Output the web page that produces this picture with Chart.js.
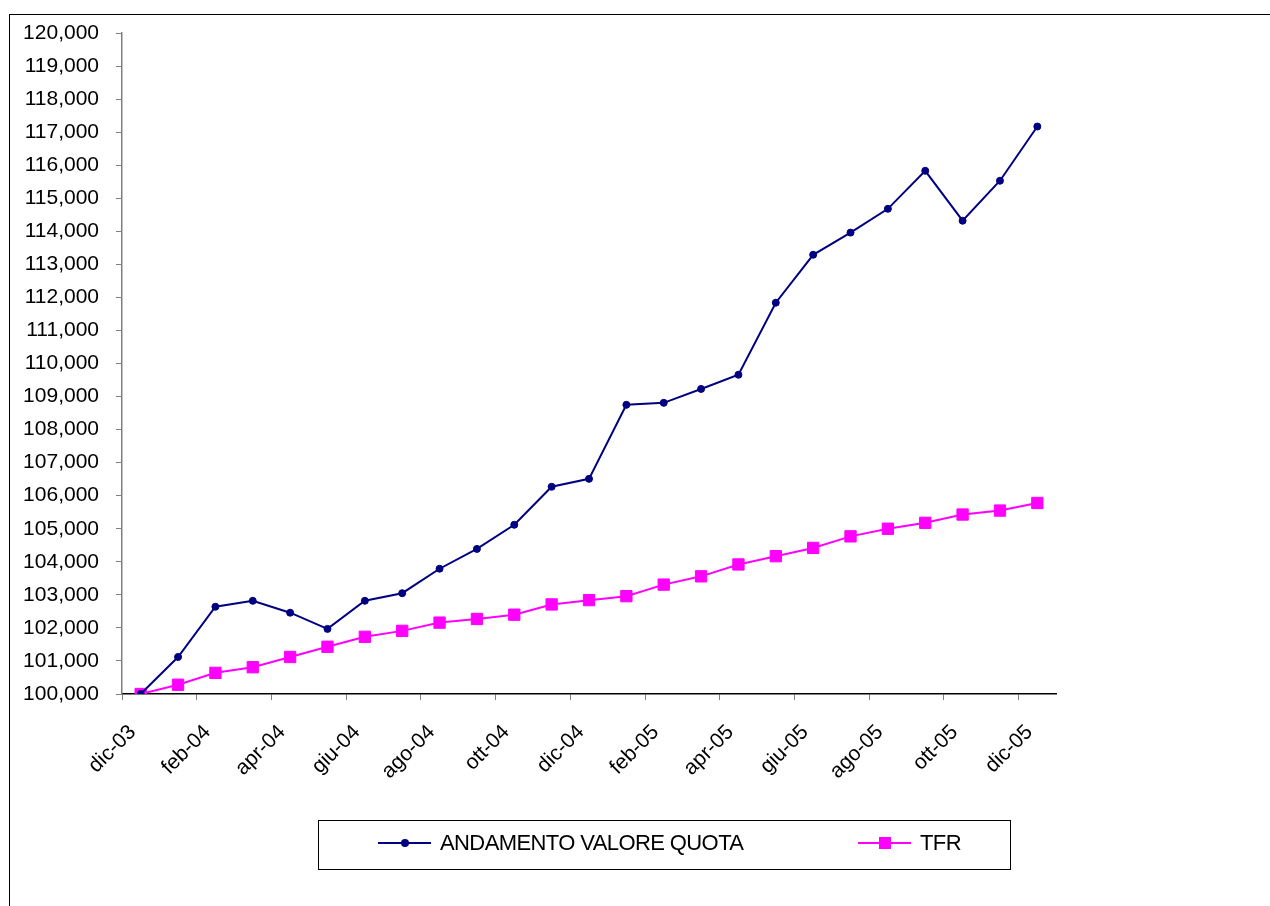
<!DOCTYPE html>
<html lang="it">
<head>
    <meta charset="UTF-8">
    <title>Andamento valore quota</title>
    <script src="https://cdn.jsdelivr.net/npm/chart.js"></script>
    <style>
        body {
            margin: 0;
            background: white;
            font-family: "Liberation Sans", Arial, sans-serif;
        }
        #wrap {
            position: relative;
            width: 1270px;
            height: 906px;
            overflow: hidden;
        }
        /* outer chart border, runs off the right and bottom edges */
        #frame {
            position: absolute;
            left: 9px;
            top: 14px;
            width: 1300px;
            height: 1000px;
            border: 1px solid black;
        }
        canvas {
            position: absolute;
            left: 0;
            top: 0;
        }
        #legend {
            position: absolute;
            left: 318px;
            top: 820px;
            width: 691px;
            height: 48px;
            border: 1px solid black;
            background: white;
            font-size: 22px;
            letter-spacing: -0.6px;
        }
        .item {
            position: absolute;
            top: -2px;
            height: 48px;
            display: flex;
            align-items: center;
        }
        .line {
            position: relative;
            width: 53px;
            height: 2px;
            margin-right: 9px;
        }
        .mark {
            position: absolute;
            left: 50%;
            top: 50%;
            transform: translate(-50%, -50%);
        }
    </style>
</head>
<body>
    <div id="wrap">
        <div id="frame"></div>
        <canvas id="quotaChart" width="1270" height="906"></canvas>
        <div id="legend">
            <div class="item" style="left: 59px;">
                <div class="line" style="background: #000080;">
                    <div class="mark" style="width: 8px; height: 8px; border-radius: 50%; background: #000080;"></div>
                </div>
                <span>ANDAMENTO VALORE QUOTA</span>
            </div>
            <div class="item" style="left: 539px;">
                <div class="line" style="background: #ff00ff;">
                    <div class="mark" style="width: 12px; height: 12px; background: #ff00ff;"></div>
                </div>
                <span>TFR</span>
            </div>
        </div>
    </div>

    <script>
        // months dic-03 .. dic-05
        const months = ['dic-03', 'gen-04', 'feb-04', 'mar-04', 'apr-04', 'mag-04', 'giu-04', 'lug-04',
            'ago-04', 'set-04', 'ott-04', 'nov-04', 'dic-04', 'gen-05', 'feb-05', 'mar-05', 'apr-05',
            'mag-05', 'giu-05', 'lug-05', 'ago-05', 'set-05', 'ott-05', 'nov-05', 'dic-05'];

        const valoreQuota = [100.000, 101.120, 102.640, 102.820, 102.460, 101.970, 102.820, 103.050,
            103.790, 104.390, 105.120, 106.270, 106.510, 108.750, 108.810, 109.230, 109.660,
            111.840, 113.290, 113.960, 114.680, 115.830, 114.320, 115.530, 117.170];

        const tfr = [100.000, 100.280, 100.640, 100.810, 101.120, 101.430, 101.730, 101.910,
            102.160, 102.270, 102.400, 102.710, 102.840, 102.960, 103.310, 103.560, 103.920,
            104.170, 104.420, 104.770, 105.000, 105.180, 105.430, 105.550, 105.780];

        const yMin = 100000;
        const yMax = 120000;
        const yStep = 1000;

        const fontFamily = '"Liberation Sans", Arial, sans-serif';

        const ctx = document.getElementById('quotaChart').getContext('2d');
        const quotaChart = new Chart(ctx, {
            type: 'line',
            data: {
                labels: months,
                datasets: [{
                    label: 'ANDAMENTO VALORE QUOTA',
                    data: valoreQuota.map(v => v * 1000),
                    borderColor: '#000080',
                    backgroundColor: '#000080',
                    borderWidth: 2,
                    pointStyle: 'circle',
                    pointRadius: 3.5,
                    pointBorderWidth: 1,
                    tension: 0
                }, {
                    label: 'TFR',
                    data: tfr.map(v => v * 1000),
                    borderColor: '#ff00ff',
                    backgroundColor: '#ff00ff',
                    borderWidth: 2,
                    pointStyle: 'rect',
                    pointRadius: 8,
                    pointBorderWidth: 1,
                    tension: 0
                }]
            },
            options: {
                responsive: false,
                animation: false,
                devicePixelRatio: 1,
                layout: {
                    padding: { left: 0, top: 33, right: 214, bottom: 0 }
                },
                plugins: {
                    legend: { display: false },
                    tooltip: { enabled: false }
                },
                scales: {
                    x: {
                        type: 'category',
                        offset: true,
                        border: { color: '#000000', width: 1.5 },
                        grid: {
                            offset: true,
                            drawOnChartArea: false,
                            drawTicks: true,
                            tickLength: 6,
                            tickColor: c => (c.index % 2 === 0 ? '#808080' : 'rgba(0,0,0,0)')
                        },
                        ticks: {
                            autoSkip: false,
                            maxRotation: 45,
                            minRotation: 45,
                            padding: 20,
                            labelOffset: -8,
                            color: '#000000',
                            font: { family: fontFamily, size: 21 },
                            callback: (val, i) => (i % 2 === 0 ? months[i] : '')
                        },
                        afterFit: scale => { scale.height = 212; }
                    },
                    y: {
                        min: yMin,
                        max: yMax,
                        border: { color: '#808080', width: 1.5 },
                        grid: {
                            drawOnChartArea: false,
                            drawTicks: true,
                            tickLength: 6,
                            tickColor: '#808080'
                        },
                        ticks: {
                            stepSize: yStep,
                            padding: 17,
                            color: '#000000',
                            font: { family: fontFamily, size: 21 },
                            callback: v => v.toLocaleString('en-US')
                        },
                        afterFit: scale => { scale.width = 122; }
                    }
                }
            }
        });
    </script>
</body>
</html>
